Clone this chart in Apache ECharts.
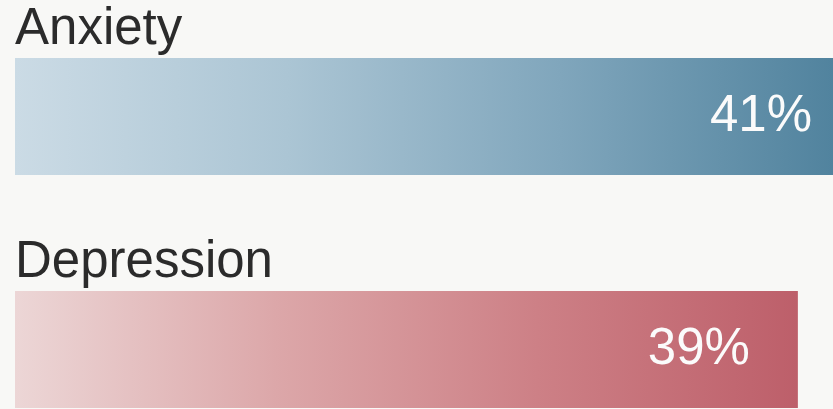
<!DOCTYPE html>
<html>
<head>
<meta charset="utf-8">
<script src="https://cdn.jsdelivr.net/npm/echarts@6/dist/echarts.min.js"></script>
<style>
html,body{margin:0;padding:0;background:#f8f8f6;}
#c{width:833px;height:409px;}
</style>
</head>
<body>
<div id="c"></div>
<script>
var categories = ['Anxiety', 'Depression'];
var values = [41, 39];

var gradients = [
  ['#cbdbe5', '#abc5d4', '#80a6bc', '#51839e'],
  ['#ecd6d6', '#dca7a9', '#cd8086', '#bd5f6a']
];
var labelDistances = [21, 48];

var chart = echarts.init(document.getElementById('c'), null, {renderer: 'canvas'});

function grad(stops) {
  return new echarts.graphic.LinearGradient(0, 0, 1, 0, stops.map(function (c, i) {
    return {offset: i / (stops.length - 1), color: c};
  }));
}

var barData = values.map(function (v, i) {
  return {
    value: v,
    itemStyle: {color: grad(gradients[i])},
    label: {distance: labelDistances[i]}
  };
});

var nameData = values.map(function (v, i) {
  return {value: v, name: categories[i]};
});

chart.setOption({
  backgroundColor: '#f8f8f6',
  animation: false,
  grid: {left: 15, right: 0, top: 0, height: 466, outerBoundsMode: 'none', containLabel: false},
  xAxis: {type: 'value', min: 0, max: 40.75, show: false},
  yAxis: {type: 'category', data: categories, inverse: true, show: false},
  series: [
    {
      type: 'bar',
      data: barData,
      barWidth: 117,
      label: {
        show: true,
        position: 'insideRight',
        formatter: '{c}%',
        color: '#fbfbfb',
        fontSize: 51,
        fontFamily: 'Liberation Sans, Arial, sans-serif'
      }
    },
    {
      type: 'bar',
      data: nameData,
      barWidth: 117,
      barGap: '-100%',
      itemStyle: {color: 'rgba(0,0,0,0)'},
      silent: true,
      label: {
        show: true,
        position: [0, -3],
        align: 'left',
        verticalAlign: 'bottom',
        formatter: '{b}',
        color: '#2b2b2b',
        fontSize: 51,
        fontFamily: 'Liberation Sans, Arial, sans-serif'
      }
    }
  ]
});
</script>
</body>
</html>
